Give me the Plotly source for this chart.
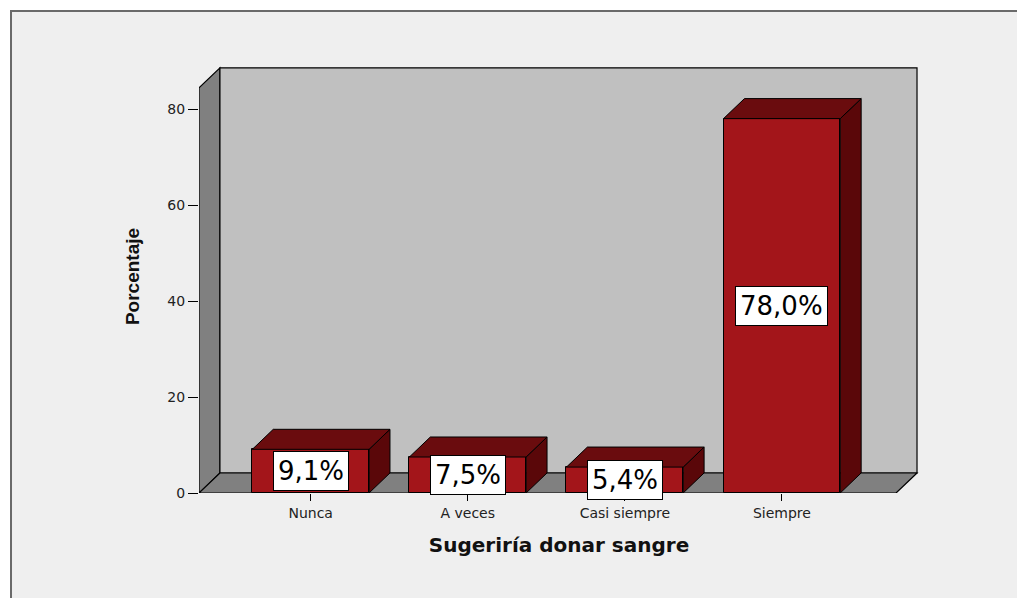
import plotly.graph_objects as go

# ---- data ----
categories = ["Nunca", "A veces", "Casi siempre", "Siempre"]
percentages = [9.1, 7.5, 5.4, 78.0]
label_texts = ["9,1%", "7,5%", "5,4%", "78,0%"]
y_tick_values = [0, 20, 40, 60, 80]
y_tick_labels = ["0", "20", "40", "60", "80"]
x_title = "Sugeriría donar sangre"
y_title = "Porcentaje"

# ---- style / geometry (axis units) ----
bar_w = 0.743
depth_x = 0.1333
depth_y = 4.17
x_lo, x_hi = -0.7111, 3.7270      # front floor edge
wall_top = 84.4
x_range = [-0.7111, 3.8730]
y_range = [0, 90.21]

FRONT = "#a3151a"
TOP = "#6a0c0e"
SIDE = "#5a0709"
BACKWALL = "#c0c0c0"
SIDEWALL = "#808080"
FLOOR = "#808080"

fig = go.Figure()

# room: left wall, back wall, floor
wall_shapes = [
    dict(type="path", path=f"M{x_lo},0 L{x_lo},{wall_top} L{x_lo+depth_x},{wall_top+depth_y} L{x_lo+depth_x},{depth_y} Z",
         fillcolor=SIDEWALL),
    dict(type="rect", x0=x_lo + depth_x, x1=x_hi + depth_x, y0=depth_y, y1=wall_top + depth_y,
         fillcolor=BACKWALL),
    dict(type="path", path=f"M{x_lo},0 L{x_hi},0 L{x_hi+depth_x},{depth_y} L{x_lo+depth_x},{depth_y} Z",
         fillcolor=FLOOR),
]
shapes = [
    # outer frame
    dict(type="rect", xref="paper", yref="paper", x0=-0.2611, x1=1.2, y0=-0.3, y1=1.1132,
         fillcolor="#efefef", line=dict(color="#6a6a6a", width=2), layer="below"),
]
for s in wall_shapes:
    s.update(xref="x", yref="y", layer="below", line=dict(color="black", width=1.2))
    shapes.append(s)

# front faces of bars
fig.add_trace(go.Bar(
    x=list(range(len(categories))), y=percentages, width=bar_w,
    marker=dict(color=FRONT, line=dict(color="black", width=1)),
    hoverinfo="skip", showlegend=False,
))

# top and side faces
top_x, top_y, side_x, side_y = [], [], [], []
for i, v in enumerate(percentages):
    x0, x1 = i - bar_w / 2, i + bar_w / 2
    top_x += [x0, x1, x1 + depth_x, x0 + depth_x, x0, None]
    top_y += [v, v, v + depth_y, v + depth_y, v, None]
    side_x += [x1, x1 + depth_x, x1 + depth_x, x1, x1, None]
    side_y += [0, depth_y, v + depth_y, v, 0, None]

fig.add_trace(go.Scatter(x=side_x, y=side_y, fill="toself", fillcolor=SIDE, mode="lines",
                         line=dict(color="black", width=1), hoverinfo="skip", showlegend=False))
fig.add_trace(go.Scatter(x=top_x, y=top_y, fill="toself", fillcolor=TOP, mode="lines",
                         line=dict(color="black", width=1), hoverinfo="skip", showlegend=False))

# value labels
annotations = []
for i, (v, t) in enumerate(zip(percentages, label_texts)):
    annotations.append(dict(
        x=i, y=v / 2, xref="x", yref="y", text=t, showarrow=False,
        font=dict(family="DejaVu Sans", size=26, color="black"),
        bgcolor="white", bordercolor="black", borderwidth=1, borderpad=4,
    ))

fig.update_layout(
    width=1017, height=598,
    margin=dict(l=199, r=98, t=60, b=105),
    paper_bgcolor="white", plot_bgcolor="rgba(0,0,0,0)",
    shapes=shapes, annotations=annotations,
    bargap=0, showlegend=False,
    xaxis=dict(range=x_range, tickvals=list(range(len(categories))), ticktext=categories,
               ticks="outside", ticklen=7, tickcolor="black", showgrid=False, zeroline=False,
               showline=False, tickfont=dict(family="DejaVu Sans", size=14, color="#222"),
               title=dict(text=f"<b>{x_title}</b>", font=dict(family="DejaVu Sans", size=20, color="#111"),
                          standoff=18)),
    yaxis=dict(range=y_range, tickvals=y_tick_values, ticktext=y_tick_labels,
               ticks="outside", ticklen=10, tickcolor="black", showgrid=False, zeroline=False,
               showline=False, tickfont=dict(family="DejaVu Sans", size=14, color="#222"),
               title=dict(text=f"<b>{y_title}</b>", font=dict(family="Liberation Sans", size=19, color="#111"),
                          standoff=22)),
)

fig.write_html("out.html", config={"displayModeBar": False},
               post_script="document.body.style.margin='0';document.body.style.overflow='hidden';")
